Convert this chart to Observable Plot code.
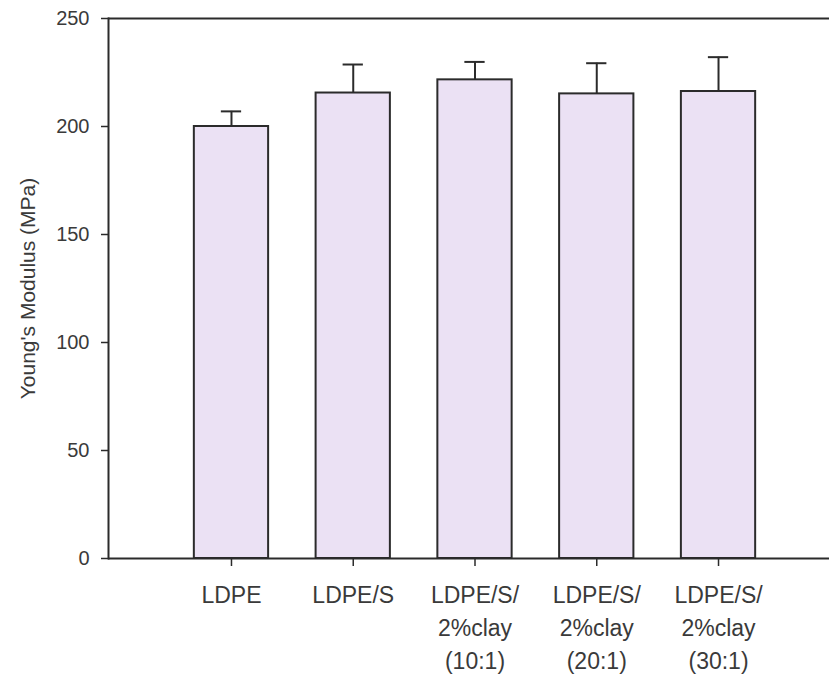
<!DOCTYPE html>
<html>
<head>
<meta charset="utf-8">
<script src="https://cdn.jsdelivr.net/npm/d3@7"></script>
<script src="https://cdn.jsdelivr.net/npm/@observablehq/plot@0.6"></script>
<style>
  html, body { margin: 0; padding: 0; background: #fff; overflow: hidden; }
  #chart { width: 829px; height: 678px; overflow: hidden; }
</style>
</head>
<body>
<div id="chart"></div>
<script>
const categories = ["LDPE", "LDPE/S", "LDPE/S/2%clay (10:1)", "LDPE/S/2%clay (20:1)", "LDPE/S/2%clay (30:1)"];
const tickLabels = ["LDPE", "LDPE/S", "LDPE/S/\n2%clay\n(10:1)", "LDPE/S/\n2%clay\n(20:1)", "LDPE/S/\n2%clay\n(30:1)"];
const modulus = [200, 215.5, 221.6, 215.1, 216.2];
const errors = [7, 13.2, 8.3, 14.2, 15.9];
const yTicks = [0, 50, 100, 150, 200, 250];
const yLabel = "Young's Modulus (MPa)";

const data = categories.map((c, i) => ({
  name: c,
  value: modulus[i],
  upper: modulus[i] + errors[i]
}));
const labelOf = new Map(categories.map((c, i) => [c, tickLabels[i]]));

const ink = "#2b2b2b";
const textInk = "#3a3a3a";

const chart = Plot.plot({
  width: 829,
  height: 678,
  marginTop: 18,
  marginBottom: 120,
  marginLeft: 108,
  marginRight: 0,
  style: { fontFamily: "'Liberation Sans', Arial, sans-serif", background: "#fff", color: textInk },
  x: {
    type: "band",
    domain: categories,
    range: [170.1, 778.9],
    paddingInner: 0.39,
    paddingOuter: 0.195,
    round: false
  },
  y: { domain: [0, 250] },
  marks: [
    Plot.barY(data, { x: "name", y: "value", fill: "#ebe1f4", stroke: ink, strokeWidth: 2 }),
    Plot.ruleX(data, { x: "name", y1: "value", y2: "upper", stroke: ink, strokeWidth: 2 }),
    Plot.tickY(data, { x: "name", y: "upper", stroke: ink, strokeWidth: 2, insetLeft: 27, insetRight: 27 }),
    Plot.ruleY([0], { stroke: ink, strokeWidth: 2 }),
    Plot.ruleY([250], { stroke: ink, strokeWidth: 2 }),
    Plot.frame({ anchor: "left", stroke: ink, strokeWidth: 2 }),
    Plot.axisY({ ticks: yTicks, tickSize: 7, tickPadding: 12, fontSize: 20, label: null, stroke: ink, strokeWidth: 1.5, fill: textInk }),
    Plot.axisX({ tickSize: 8, tickPadding: 13, fontSize: 23, lineHeight: 1.43, label: null, tickFormat: d => labelOf.get(d), stroke: ink, strokeWidth: 1.5, fill: textInk }),
    Plot.text([yLabel], { text: d => d, frameAnchor: "left", textAnchor: "middle", rotate: -90, dx: -80, fontSize: 21, fill: textInk })
  ]
});
document.getElementById("chart").appendChild(chart);
</script>
</body>
</html>
